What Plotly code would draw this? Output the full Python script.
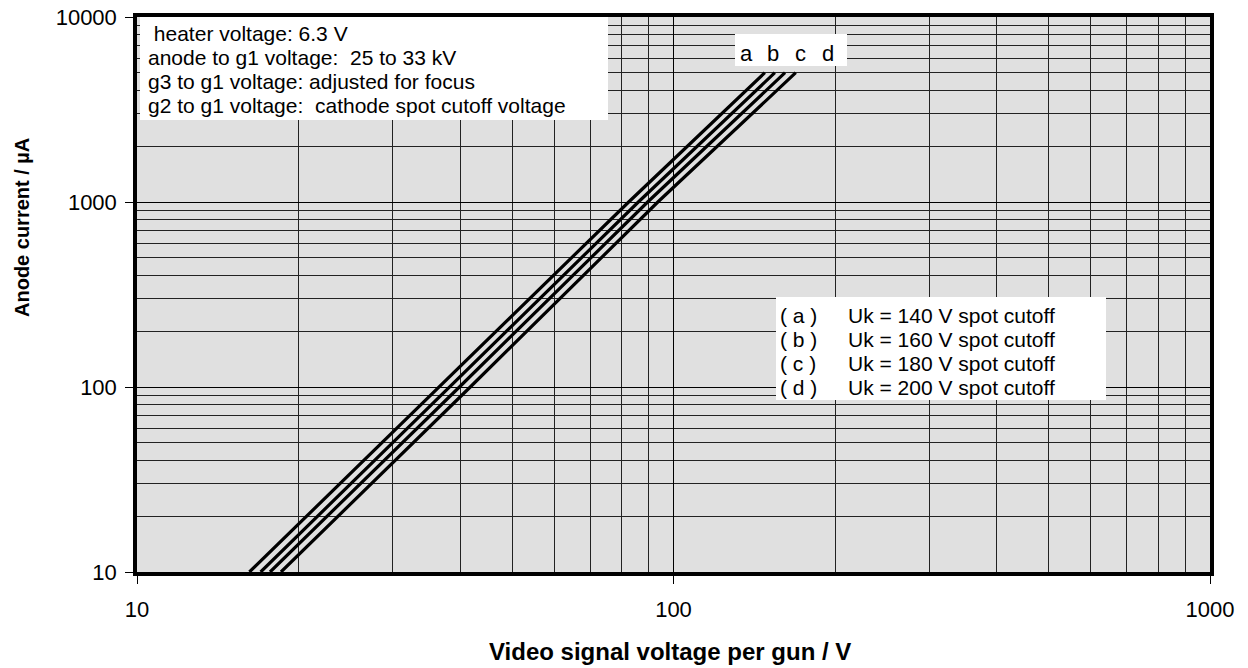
import plotly.graph_objects as go

# Anode current (µA) sample points
current = [10, 100, 1000, 5000]
# Video signal voltage (V) for each curve at those currents
volt_a = [16.2, 36.5, 82.5, 148.0]
volt_b = [17.0, 38.3, 86.0, 154.5]
volt_c = [17.7, 39.9, 89.5, 161.4]
volt_d = [18.55, 41.8, 93.5, 169.0]
curve_names = ["a", "b", "c", "d"]
legend_lines = [
    ("( a )", "Uk = 140 V spot cutoff"),
    ("( b )", "Uk = 160 V spot cutoff"),
    ("( c )", "Uk = 180 V spot cutoff"),
    ("( d )", "Uk = 200 V spot cutoff"),
]
info_lines = [
    " heater voltage: 6.3 V",
    "anode to g1 voltage:  25 to 33 kV",
    "g3 to g1 voltage: adjusted for focus",
    "g2 to g1 voltage:  cathode spot cutoff voltage",
]
x_ticks = [10, 100, 1000]
y_ticks = [10, 100, 1000, 10000]
x_title = "Video signal voltage per gun / V"
y_title = "Anode current / µA"

FONT = "Liberation Sans, Arial, sans-serif"

fig = go.Figure()
for name, v in zip(curve_names, [volt_a, volt_b, volt_c, volt_d]):
    fig.add_trace(go.Scatter(x=v, y=current, mode="lines", name=name,
                             line=dict(color="black", width=3.2), showlegend=False))

# page is rendered with an 8px body margin
OFF = 8
W, H = 1240, 660
PL, PT, PR, PB = 137, 17, 1210, 572  # plot area in page pixels
L, T = PL - OFF, PT - OFF
R, B = W - (PR - OFF), H - (PB - OFF)
pw, ph = PR - PL, PB - PT

def px(xp, yp):
    return (xp - PL) / pw, 1 - (yp - PT) / ph

shapes = []
for (a0, b0, a1, b1) in [(140, 17, 608, 120), (735, 34, 847, 66), (776, 297, 1106, 400)]:
    x0, y1 = px(a0, b0)
    x1, y0 = px(a1, b1)
    shapes.append(dict(type="rect", xref="paper", yref="paper", x0=x0, x1=x1, y0=y0, y1=y1,
                       fillcolor="white", line=dict(width=0), layer="above"))

annotations = []
for i, t in enumerate(info_lines):
    xa, ya = px(146, 33 + i * 24.3)
    annotations.append(dict(xref="paper", yref="paper", x=xa, y=ya, text=t, showarrow=False,
                            xanchor="left", yanchor="middle",
                            font=dict(family=FONT, size=21, color="black")))
for i, n in enumerate(curve_names):
    xa, ya = px(746 + i * 27.3, 53)
    annotations.append(dict(xref="paper", yref="paper", x=xa, y=ya, text=n, showarrow=False,
                            xanchor="center", yanchor="middle",
                            font=dict(family=FONT, size=22, color="black")))
for i, (a, b) in enumerate(legend_lines):
    xa, ya = px(778, 315 + i * 24)
    annotations.append(dict(xref="paper", yref="paper", x=xa, y=ya, text=a, showarrow=False,
                            xanchor="left", yanchor="middle",
                            font=dict(family=FONT, size=21, color="black")))
    xb, _ = px(846, 0)
    annotations.append(dict(xref="paper", yref="paper", x=xb, y=ya, text=b, showarrow=False,
                            xanchor="left", yanchor="middle",
                            font=dict(family=FONT, size=21, color="black")))

# axis titles
xa, ya = px(670, 651)
annotations.append(dict(xref="paper", yref="paper", x=xa, y=ya, text="<b>%s</b>" % x_title,
                        showarrow=False, xanchor="center", yanchor="middle",
                        font=dict(family=FONT, size=24, color="black")))
xa, ya = px(22, 228)
annotations.append(dict(xref="paper", yref="paper", x=xa, y=ya, text="<b>%s</b>" % y_title,
                        showarrow=False, xanchor="center", yanchor="middle", textangle=-90,
                        font=dict(family=FONT, size=20, color="black")))

axis_common = dict(
    type="log", showline=True, linecolor="black", linewidth=3.5, mirror=True,
    showgrid=True, gridcolor="black", gridwidth=1,
    ticks="outside", ticklen=8, tickcolor="black", tickwidth=1,
    minor=dict(dtick="D1", showgrid=True, gridcolor="#222", gridwidth=1),
    tickfont=dict(family=FONT, size=22, color="black"),
    zeroline=False, automargin=False, ticklabeloverflow="allow",
)

fig.update_layout(
    width=W, height=H,
    margin=dict(l=L, r=R, t=T, b=B),
    paper_bgcolor="white", plot_bgcolor="#e0e0e0",
    shapes=shapes, annotations=annotations,
    xaxis=dict(axis_common, range=[1, 3], tickvals=x_ticks,
               ticktext=[str(v) for v in x_ticks], ticklabelstandoff=7),
    yaxis=dict(axis_common, range=[1, 4], tickvals=y_ticks,
               ticktext=[str(v) for v in y_ticks], ticklabelstandoff=4),
)

fig.write_html("out.html")
